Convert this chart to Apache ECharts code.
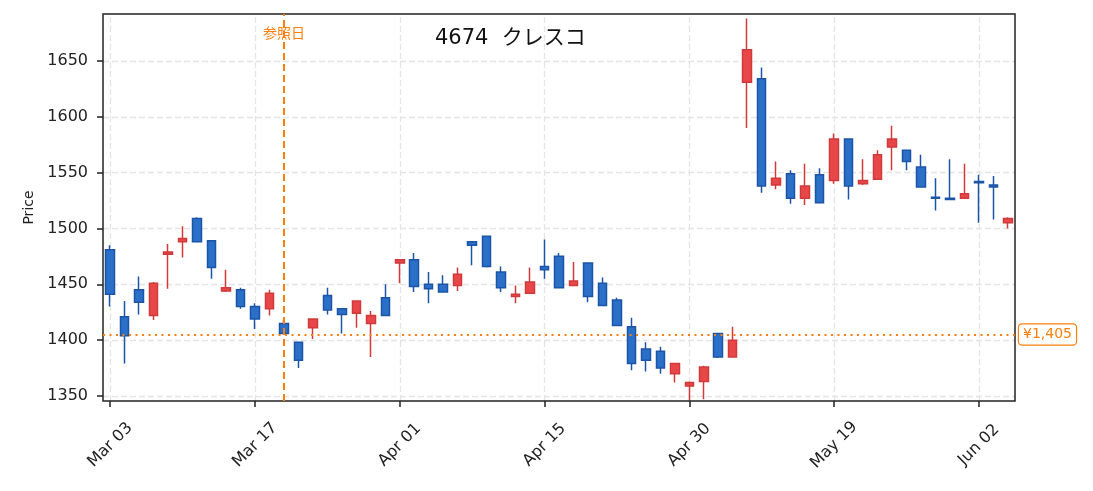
<!DOCTYPE html>
<html>
<head>
<meta charset="utf-8">
<script src="https://cdn.jsdelivr.net/npm/echarts@6/dist/echarts.min.js"></script>
<style>
html,body{margin:0;padding:0;background:#fff;}
#chart{width:1093px;height:491px;}
</style>
</head>
<body>
<div id="chart"></div>
<script>
// ---- data ----
const dates = [
  '2025-03-03','2025-03-04','2025-03-05','2025-03-06','2025-03-07',
  '2025-03-10','2025-03-11','2025-03-12','2025-03-13','2025-03-14',
  '2025-03-17','2025-03-18','2025-03-19','2025-03-21',
  '2025-03-24','2025-03-25','2025-03-26','2025-03-27','2025-03-28',
  '2025-03-31','2025-04-01','2025-04-02','2025-04-03','2025-04-04',
  '2025-04-07','2025-04-08','2025-04-09','2025-04-10','2025-04-11',
  '2025-04-14','2025-04-15','2025-04-16','2025-04-17','2025-04-18',
  '2025-04-21','2025-04-22','2025-04-23','2025-04-24','2025-04-25',
  '2025-04-28','2025-04-30','2025-05-02','2025-05-07','2025-05-08','2025-05-09',
  '2025-05-12','2025-05-13','2025-05-14','2025-05-15','2025-05-16',
  '2025-05-19','2025-05-20','2025-05-21','2025-05-22','2025-05-23',
  '2025-05-26','2025-05-27','2025-05-28','2025-05-29','2025-05-30',
  '2025-06-02','2025-06-03','2025-06-04'
];
const opens = [1481,1421,1445,1422,1477,1488,1509,1489,1444,1445,
  1430,1428,1415,1398,1411,1440,1428,1424,1415,1438,
  1469,1472,1450,1450,1449,1488,1493,1461,1439,1442,
  1466,1475,1449,1469,1451,1436,1412,1392,1390,1370,
  1359,1363,1406,1385,1631,1634,1539,1549,1527,1548,
  1543,1580,1540,1544,1573,1570,1555,1528,1527,1527,
  1542,1539,1505];
const closes = [1441,1404,1434,1451,1479,1491,1488,1465,1447,1430,
  1419,1442,1406,1382,1419,1427,1423,1435,1422,1422,
  1472,1448,1446,1443,1459,1485,1466,1447,1441,1452,
  1463,1447,1453,1439,1431,1413,1379,1382,1375,1379,
  1362,1376,1385,1400,1660,1538,1545,1527,1538,1523,
  1580,1538,1543,1566,1580,1560,1537,1527,1526,1531,
  1541,1537,1509];
const lows = [1430,1379,1423,1418,1446,1474,1488,1455,1443,1428,
  1410,1422,1405,1375,1401,1423,1406,1411,1385,1422,
  1451,1443,1433,1443,1444,1467,1465,1443,1433,1442,
  1455,1447,1449,1434,1431,1413,1373,1372,1370,1362,
  1346,1347,1384,1385,1590,1532,1535,1522,1521,1523,
  1540,1526,1539,1544,1552,1552,1537,1516,1526,1527,
  1505,1508,1500];
const highs = [1485,1435,1457,1452,1486,1502,1510,1489,1463,1447,
  1433,1445,1418,1398,1419,1447,1428,1435,1426,1450,
  1472,1478,1461,1458,1465,1488,1493,1466,1449,1465,
  1490,1478,1470,1469,1456,1438,1420,1398,1394,1379,
  1363,1377,1406,1412,1688,1644,1560,1552,1558,1554,
  1585,1580,1562,1570,1592,1570,1566,1545,1562,1558,
  1548,1547,1510];
const tickEvery = 10;
const monthNames = ['Jan','Feb','Mar','Apr','May','Jun','Jul','Aug','Sep','Oct','Nov','Dec'];
const titleText = '4674  クレスコ';
const refDate = '2025-03-19';
const refDateLabel = '参照日';
const refPrice = 1405;
const refLabelLevel = 1674;
const yMin = 1345.5, yMax = 1692;

// ---- chart ----
const FONT = "'DejaVu Sans', 'Noto Sans CJK JP', sans-serif";
const ORANGE = '#ff7f0e';
const GRID = '#e4e4e4';
const fmtDate = d => { const p = d.split('-'); return monthNames[+p[1]-1] + ' ' + p[2]; };
const candleData = dates.map((d, i) => [opens[i], closes[i], lows[i], highs[i]]);
const gridDates = dates.filter((d, i) => i % tickEvery === 0);

const chart = echarts.init(document.getElementById('chart'), null, {renderer: 'canvas'});
chart.setOption({
  animation: false,
  backgroundColor: '#fff',
  textStyle: {fontFamily: FONT},
  title: {
    text: titleText, left: 435, top: 28, padding: 0,
    textStyle: {fontFamily: FONT, fontSize: 21, fontWeight: 'normal', color: '#111'}
  },
  grid: {
    left: 103, right: 78, top: 14, bottom: 90,
    show: true, borderColor: '#222', borderWidth: 1.5, backgroundColor: 'transparent',
    containLabel: false, outerBoundsMode: 'none', z: 3
  },
  xAxis: {
    type: 'category', data: dates, boundaryGap: true,
    axisLine: {show: false},
    axisTick: {show: true, alignWithLabel: true, interval: (i) => i % tickEvery === 0, length: 6,
      lineStyle: {color: '#222', width: 1.5}},
    axisLabel: {interval: (i) => i % tickEvery === 0, rotate: 45, align: 'center', verticalAlign: 'middle',
      margin: 44, formatter: fmtDate, fontFamily: FONT, fontSize: 16, color: '#222'},
    splitLine: {show: false}
  },
  yAxis: {
    type: 'value', min: yMin, max: yMax, scale: true,
    name: 'Price', nameLocation: 'middle', nameRotate: 90, nameGap: 66,
    nameTextStyle: {fontFamily: FONT, fontSize: 14, color: '#222'},
    axisLine: {show: false},
    axisTick: {show: true, length: 6, lineStyle: {color: '#222', width: 1.5}},
    axisLabel: {showMinLabel: false, showMaxLabel: false, margin: 15, fontFamily: FONT, fontSize: 16, color: '#222',
      formatter: v => String(v)},
    splitLine: {show: true, showMinLine: false, showMaxLine: false,
      lineStyle: {color: GRID, type: [6, 3], width: 1.3}}
  },
  series: [
    {
      type: 'line', data: [], silent: true, z: 1,
      markLine: {
        silent: true, symbol: 'none', z: 1, animation: false,
        label: {show: false},
        lineStyle: {color: GRID, type: [6, 3], width: 1.3},
        data: gridDates.map(d => ({xAxis: d}))
      }
    },
    {
      type: 'candlestick', data: candleData, barWidth: 9, z: 2,
      itemStyle: {
        color: '#e8474a', color0: '#2a6fc8',
        borderColor: '#d13a3a', borderColor0: '#1d55a6', borderWidth: 1.5
      },
      markLine: {
        silent: true, symbol: 'none', animation: false,
        data: [
          {xAxis: refDate, label: {show: false},
           lineStyle: {color: ORANGE, type: [7, 4], width: 2}},
          {yAxis: refPrice,
           lineStyle: {color: ORANGE, type: [2, 4.5], width: 2},
           label: {show: true, position: 'end', distance: 4,
             formatter: '¥' + refPrice.toLocaleString('en-US'),
             fontFamily: FONT, fontSize: 14, color: ORANGE,
             backgroundColor: '#fff', borderColor: ORANGE, borderWidth: 1.2, borderRadius: 3,
             padding: [3, 4]}}
        ]
      },
      markPoint: {
        silent: true, animation: false,
        data: [{coord: [refDate, refLabelLevel], symbol: 'rect', symbolSize: 1,
          itemStyle: {color: 'rgba(0,0,0,0)'},
          label: {show: true, position: 'inside', formatter: refDateLabel,
            fontFamily: FONT, fontSize: 14, color: ORANGE}}]
      }
    }
  ]
});
</script>
</body>
</html>
